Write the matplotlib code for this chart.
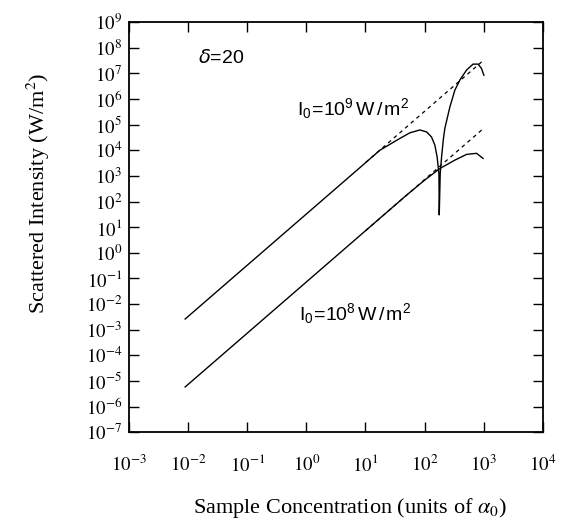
import math
import matplotlib
matplotlib.use("Agg")
import matplotlib.pyplot as plt
from matplotlib.ticker import LogLocator, FuncFormatter

plt.rcParams['font.family'] = ['Liberation Serif', 'DejaVu Serif']
plt.rcParams['mathtext.fontset'] = 'stix'

# curve for I0 = 1e9 W/m^2
hi_x = [8.9e-3, 8.05, 17.5, 38.2, 56.4, 83.2, 108, 131, 149, 163, 175, 177, 184, 194, 207,
        220, 268, 325, 395, 513, 661, 805, 918, 1007]
hi_y = [2.6e-3, 2.1e3, 1.0e4, 2.9e4, 4.8e4, 6.2e4, 5.2e4, 3.3e4, 1.6e4, 5.5e3, 1.2e3, 30,
        1.3e3, 5.5e3, 2.5e4, 7.1e4, 4.9e5, 2.2e6, 5.5e6, 1.35e7, 2.3e7, 2.3e7, 1.55e7, 8.5e6]

# curve for I0 = 1e8 W/m^2
lo_x = [8.9e-3, 50, 100, 182, 324, 513, 757, 977]
lo_y = [5.8e-6, 1.8e2, 6.8e2, 1.95e3, 4.1e3, 6.9e3, 7.6e3, 4.8e3]

# dashed asymptotes
hi_dash_x = [10, 1000]
hi_dash_y = [3.3e3, 3.3e7]
lo_dash_x = [10, 1000]
lo_dash_y = [7.2, 7.2e4]

fig = plt.figure(figsize=(5.66, 5.27), dpi=100)
ax = fig.add_axes([0.228, 0.180, 0.731, 0.778])

ax.plot(hi_x, hi_y, color='black', lw=1.0)
ax.plot(lo_x, lo_y, color='black', lw=1.0)
ax.plot(hi_dash_x, hi_dash_y, color='black', lw=0.9, ls=(0, (3, 3)))
ax.plot(lo_dash_x, lo_dash_y, color='black', lw=0.9, ls=(0, (3, 3)))

ax.set_xscale('log')
ax.set_yscale('log')
ax.set_xlim(1e-3, 1e4)
ax.set_ylim(1e-7, 1e9)

ax.xaxis.set_major_locator(LogLocator(base=10, numticks=20))
ax.yaxis.set_major_locator(LogLocator(base=10, numticks=30))
ax.xaxis.set_minor_locator(plt.NullLocator())
ax.yaxis.set_minor_locator(plt.NullLocator())
fmt = FuncFormatter(lambda v, p: r'$10^{%d}$' % round(math.log10(v)))
ax.xaxis.set_major_formatter(fmt)
ax.yaxis.set_major_formatter(fmt)

ax.tick_params(which='major', direction='in', length=7, width=1.0,
               top=True, right=True, labelsize=13.5)
ax.tick_params(axis='x', pad=16)
ax.tick_params(axis='y', pad=5)
for s in ax.spines.values():
    s.set_linewidth(1.3)

sans = 'Liberation Sans'
ax.text(0.0148, 4e7, r'$\delta$=20', fontsize=14, family=sans, va='center',
        math_fontfamily='dejavusans')
ax.text(0.69, 2.3e5, r'$\mathregular{I_0\!=\!10^9\,W\,/\,m^2}$', fontsize=14, family=sans,
        va='baseline')
ax.text(0.75, 2.3e-3, r'$\mathregular{I_0\!=\!10^8\,W\,/\,m^2}$', fontsize=14, family=sans,
        va='baseline')

fig.text(0.618, 0.036, r'Sample Concentration (units of $\alpha_0$)', fontsize=16,
         ha='center', va='center')
fig.text(0.067, 0.634, r'Scattered Intensity (W/m$^2$)', fontsize=16, rotation=90,
         ha='center', va='center')

fig.savefig('out.png', dpi=100)
